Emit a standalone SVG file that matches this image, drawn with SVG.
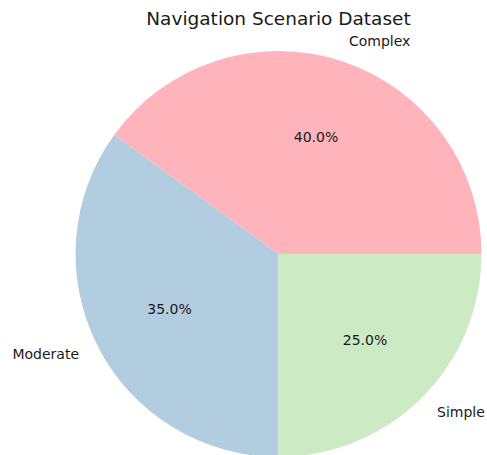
<svg xmlns="http://www.w3.org/2000/svg" width="487" height="455" viewBox="0 0 487 455">
<style>
text{font-family:"DejaVu Sans",sans-serif;fill:#1a1a1a}
.lbl{font-size:14px}
.pct{font-size:14px}
.title{font-size:18.5px}
</style>
<rect width="487" height="455" fill="#fff"/>
<text class="title" x="278.5" y="24.5" text-anchor="middle">Navigation Scenario Dataset</text>
<g id="complex">
<path d="M278.5,254 L481.5,254 A203,203 0 0 0 114.3,134.7 Z" fill="#ffb3ba"/>
<text class="pct" x="316" y="142" text-anchor="middle">40.0%</text>
<text class="lbl" x="349" y="46">Complex</text>
</g>
<g id="moderate">
<path d="M278.5,254 L114.3,134.7 A203,203 0 0 0 278.5,457 Z" fill="#b3cde0"/>
<text class="pct" x="169.5" y="314" text-anchor="middle">35.0%</text>
<text class="lbl" x="79" y="359" text-anchor="end">Moderate</text>
</g>
<g id="simple">
<path d="M278.5,254 L278.5,457 A203,203 0 0 0 481.5,254 Z" fill="#ccebc5"/>
<text class="pct" x="365" y="345" text-anchor="middle">25.0%</text>
<text class="lbl" x="437" y="417">Simple</text>
</g>
<g id="connectors"></g>
</svg>
